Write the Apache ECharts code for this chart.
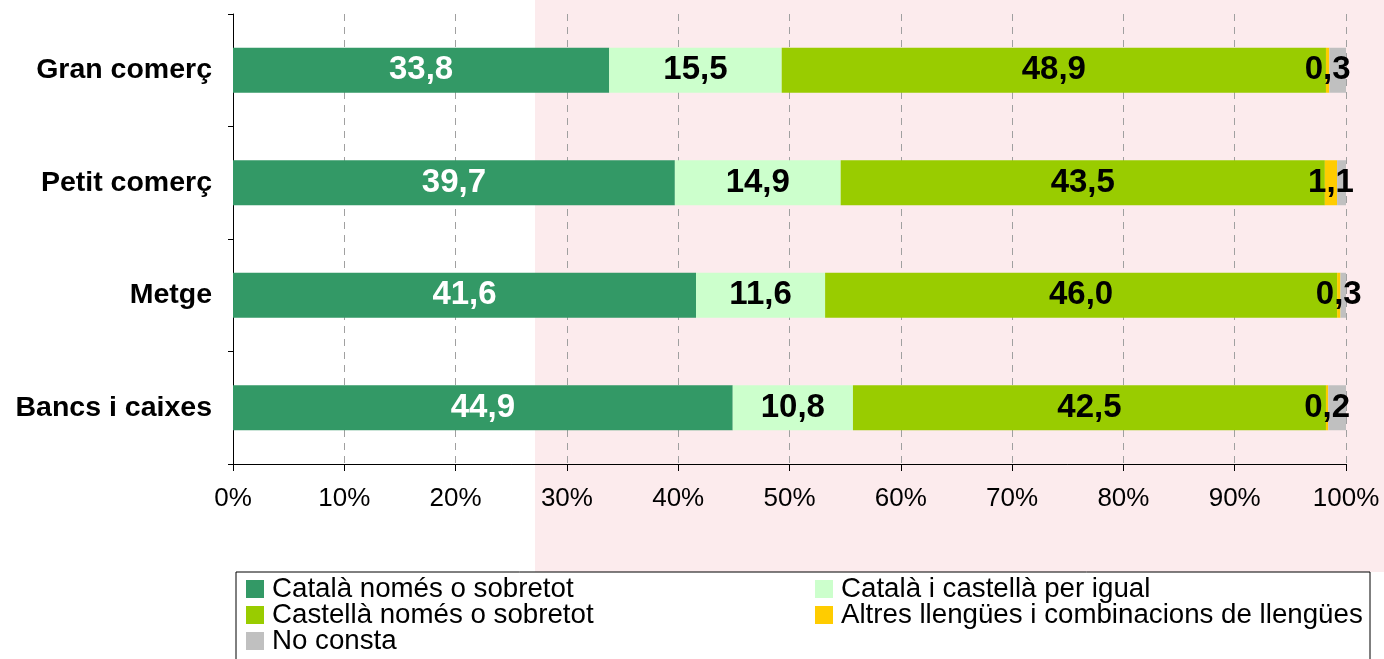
<!DOCTYPE html>
<html>
<head>
<meta charset="utf-8">
<script src="https://cdn.jsdelivr.net/npm/echarts@6/dist/echarts.min.js"></script>
<style>
  html, body { margin: 0; padding: 0; background: #fff; }
  #chart { width: 1384px; height: 659px; }
</style>
</head>
<body>
<div id="chart"></div>
<script>
// categories (top to bottom)
const categories = ['Gran comerç', 'Petit comerç', 'Metge', 'Bancs i caixes']
const seriesNames = [
  'Català només o sobretot',
  'Català i castellà per igual',
  'Castellà només o sobretot',
  'Altres llengües i combinacions de llengües',
  'No consta'
]
const catalaNomes = [33.8, 39.7, 41.6, 44.9]
const catalaCastella = [15.5, 14.9, 11.6, 10.8]
const castellaNomes = [48.9, 43.5, 46.0, 42.5]
const altres = [0.3, 1.1, 0.3, 0.2]
const noConsta = [1.5, 0.8, 0.5, 1.6]
const xTicks = [0, 10, 20, 30, 40, 50, 60, 70, 80, 90, 100]

const colors = ['#339966', '#ccffcc', '#99cc00', '#ffcc00', '#c0c0c0']
const FONT = "'Liberation Sans', Arial, sans-serif"

// 33.8 -> "33,8"
function fmt(p) {
  return p.value.toFixed(1).replace('.', ',')
}

function makeSeries(name, data, idx, showLabel, labelColor) {
  return {
    name: name,
    type: 'bar',
    stack: 'total',
    barWidth: 45,
    data: data,
    itemStyle: { color: colors[idx] },
    label: {
      show: showLabel,
      position: 'inside',
      color: labelColor,
      fontFamily: FONT,
      fontWeight: 'bold',
      fontSize: 33,
      formatter: fmt
    },
    emphasis: { disabled: true }
  }
}

const legendText = { fontSize: 27.7, lineHeight: 26, color: '#000', fontFamily: FONT, padding: [0, 0, 0, 3] }

const chart = echarts.init(document.getElementById('chart'))
const option = {
  animation: false,
  backgroundColor: '#ffffff',
  textStyle: { fontFamily: FONT },
  grid: { left: 233, right: 38, top: 14, bottom: 195 },
  graphic: [
    {
      type: 'rect',
      z: -10,
      shape: { x: 535, y: 0, width: 849, height: 572 },
      style: { fill: '#fcebed' }
    },
    {
      type: 'rect',
      z: 1,
      shape: { x: 236, y: 572, width: 1134, height: 100 },
      style: { fill: '#ffffff', stroke: '#000000', lineWidth: 1 }
    }
  ],
  legend: [
    {
      left: 246,
      top: 575,
      padding: 0,
      orient: 'vertical',
      z: 5,
      itemWidth: 18,
      itemHeight: 18,
      itemGap: -2,
      icon: 'rect',
      data: [seriesNames[0], seriesNames[2], seriesNames[4]],
      textStyle: legendText
    },
    {
      left: 815,
      top: 575,
      padding: 0,
      orient: 'vertical',
      z: 5,
      itemWidth: 18,
      itemHeight: 18,
      itemGap: -2,
      icon: 'rect',
      data: [seriesNames[1], seriesNames[3]],
      textStyle: legendText
    }
  ],
  xAxis: {
    type: 'value',
    min: xTicks[0],
    max: xTicks[xTicks.length - 1],
    interval: 10,
    axisLine: { show: true, lineStyle: { color: '#000', width: 1 } },
    axisTick: { show: true, length: 7, lineStyle: { color: '#000' } },
    axisLabel: {
      formatter: '{value}%',
      fontSize: 26,
      color: '#000',
      margin: 22,
      fontFamily: FONT
    },
    splitLine: {
      show: true,
      lineStyle: { color: '#a0a0a0', type: [7, 6], width: 1 }
    }
  },
  yAxis: {
    type: 'category',
    inverse: true,
    data: categories,
    axisLine: { show: true, lineStyle: { color: '#000', width: 1 } },
    axisTick: { show: true, length: 5, lineStyle: { color: '#000' } },
    axisLabel: {
      fontSize: 28.5,
      fontWeight: 'bold',
      color: '#000',
      margin: 21,
      fontFamily: FONT
    }
  },
  series: [
    makeSeries(seriesNames[0], catalaNomes, 0, true, '#ffffff'),
    makeSeries(seriesNames[1], catalaCastella, 1, true, '#000000'),
    makeSeries(seriesNames[2], castellaNomes, 2, true, '#000000'),
    makeSeries(seriesNames[3], altres, 3, true, '#000000'),
    makeSeries(seriesNames[4], noConsta, 4, false, '#000000')
  ]
}
chart.setOption(option)
</script>
</body>
</html>
